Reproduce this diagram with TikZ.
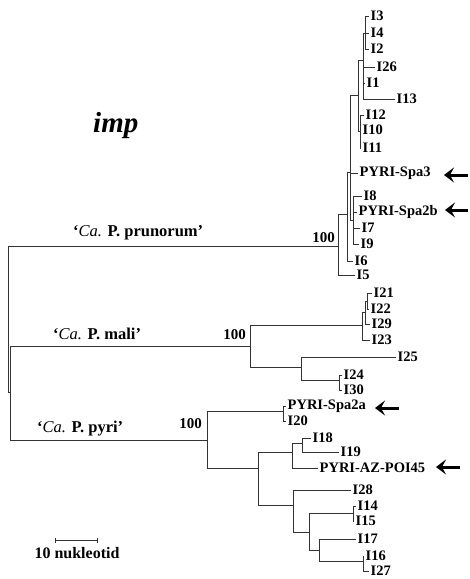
\documentclass[tikz,border=0pt]{standalone}
\usepackage{fontspec}
\setmainfont{Liberation Serif}
\usetikzlibrary{arrows.meta}

\tikzset{
  br/.style={draw=black!80, line width=0.7pt},
  leaf/.style={anchor=west, inner sep=1.5pt, font=\bfseries\fontsize{14.5}{15}\selectfont},
  boot/.style={anchor=base east, inner sep=0pt, font=\bfseries\fontsize{15}{16}\selectfont},
  clade/.style={anchor=base west, inner sep=0pt, font=\bfseries\fontsize{16.5}{18}\selectfont},
  pointer/.style={line width=3pt, -{Stealth[length=10pt,width=15pt,inset=4pt]}},
}

\begin{document}
\begin{tikzpicture}[x=1pt,y=-1pt]
\useasboundingbox (0,0) rectangle (470,579);

% Root and the three groups
\coordinate (root) at (8,319);
\coordinate (r2) at (10,392);
\coordinate (prun) at (338,246);
\coordinate (mali) at (250,346);
\coordinate (pyri) at (207,440);

% 'Ca. P. prunorum' cluster
\coordinate (a) at (347,214);
\coordinate (b) at (350,172);
\coordinate (c2) at (358,95);
\coordinate (c3) at (363,60);
\coordinate (c1) at (365,33);
\coordinate (c4) at (360,131);
\coordinate (c6) at (353,220);

\node[leaf] (i3) at (369,16) {I3};
\node[leaf] (i4) at (369,33) {I4};
\node[leaf] (i2) at (369,49) {I2};
\node[leaf] (i26) at (375,67) {I26};
\node[leaf] (i1) at (365,83) {I1};
\node[leaf] (i13) at (395,99) {I13};
\node[leaf] (i12) at (364,115) {I12};
\node[leaf] (i10) at (361,130) {I10};
\node[leaf] (i11) at (361,148) {I11};
\node[leaf] (spa3) at (358,173) {PYRI-Spa3};
\node[leaf] (i8) at (362,196) {I8};
\node[leaf] (spa2b) at (357,212) {PYRI-Spa2b};
\node[leaf] (i7) at (360,228) {I7};
\node[leaf] (i9) at (359,244) {I9};
\node[leaf] (i6) at (353,261) {I6};
\node[leaf] (i5) at (355,275) {I5};

% 'Ca. P. mali' cluster
\coordinate (d1) at (367,301);
\coordinate (d2) at (365,312);
\coordinate (d3) at (362,325);
\coordinate (d4) at (301,367);
\coordinate (d5) at (339,380);

\node[leaf] (i21) at (372,293) {I21};
\node[leaf] (i22) at (369,309) {I22};
\node[leaf] (i29) at (370,324) {I29};
\node[leaf] (i23) at (370,340) {I23};
\node[leaf] (i25) at (396,357) {I25};
\node[leaf] (i24) at (342,375) {I24};
\node[leaf] (i30) at (342,390) {I30};

% 'Ca. P. pyri' cluster
\coordinate (s) at (283,411);
\coordinate (f) at (258,468);
\coordinate (g) at (292,452);
\coordinate (g1) at (302,443);
\coordinate (h) at (293,505);
\coordinate (h2) at (309,532);
\coordinate (h3) at (353,513);
\coordinate (h4) at (319,550);
\coordinate (h5) at (363,561);

\node[leaf] (spa2a) at (286,406) {PYRI-Spa2a};
\node[leaf] (i20) at (286,421) {I20};
\node[leaf] (i18) at (311,438) {I18};
\node[leaf] (i19) at (339,452) {I19};
\node[leaf] (az) at (318,468) {PYRI-AZ-POI45};
\node[leaf] (i28) at (351,490) {I28};
\node[leaf] (i14) at (356,506) {I14};
\node[leaf] (i15) at (354,521) {I15};
\node[leaf] (i17) at (356,539) {I17};
\node[leaf] (i16) at (364,556) {I16};
\node[leaf] (i27) at (369,571) {I27};

% Branches
\draw[br] (root) |- (prun) (root) |- (r2);
\draw[br] (r2) |- (mali) (r2) |- (pyri);

\draw[br] (prun) |- (a) (prun) |- (i5.west);
\draw[br] (a) |- (b) (a) |- (i6.west);
\draw[br] (b) |- (c2) (b) |- (spa3.west) (b) |- (c6);
\draw[br] (c2) |- (c3) (c2) |- (c4);
\draw[br] (c3) |- (c1) (c3) |- (i26.west) (c3) |- (i1.west) (c3) |- (i13.west);
\draw[br] (c1) |- (i3.west) (c1) |- (i4.west) (c1) |- (i2.west);
\draw[br] (c4) |- (i12.west) (c4) |- (i10.west) (c4) |- (i11.west);
\draw[br] (c6) |- (i8.west) (c6) |- (spa2b.west) (c6) |- (i7.west) (c6) |- (i9.west);

\draw[br] (mali) |- (d3) (mali) |- (d4);
\draw[br] (d3) |- (d2) (d3) |- (i23.west);
\draw[br] (d2) |- (d1) (d2) |- (i29.west);
\draw[br] (d1) |- (i21.west) (d1) |- (i22.west);
\draw[br] (d4) |- (i25.west) (d4) |- (d5);
\draw[br] (d5) |- (i24.west) (d5) |- (i30.west);

\draw[br] (pyri) |- (s) (pyri) |- (f);
\draw[br] (s) |- (spa2a.west) (s) |- (i20.west);
\draw[br] (f) |- (g) (f) |- (h);
\draw[br] (g) |- (g1) (g) |- (az.west);
\draw[br] (g1) |- (i18.west) (g1) |- (i19.west);
\draw[br] (h) |- (i28.west) (h) |- (h2);
\draw[br] (h2) |- (h3) (h2) |- (h4);
\draw[br] (h3) |- (i14.west) (h3) |- (i15.west);
\draw[br] (h4) |- (i17.west) (h4) |- (h5);
\draw[br] (h5) |- (i16.west) (h5) |- (i27.west);

% Group labels and bootstrap values
\node[clade] (lprun) at (73,236) {`{\mdseries\itshape Ca.} P. prunorum'};
\node[clade] (lmali) at (53,339) {`{\mdseries\itshape Ca.} P. mali'};
\node[clade] (lpyri) at (37,432) {`{\mdseries\itshape Ca.} P. pyri'};
\node[boot] (bprun) at (335,242) {100};
\node[boot] (bmali) at (246,339) {100};
\node[boot] (bpyri) at (202,428) {100};

% Title
\node[font=\bfseries\itshape\fontsize{29}{30}\selectfont, anchor=base west, inner sep=0pt] (title) at (93,132) {imp};

% Marked isolates
\coordinate (a1s) at (468,175); \coordinate (a1e) at (444,175);
\coordinate (a2s) at (468,210); \coordinate (a2e) at (445,210);
\coordinate (a3s) at (399,408); \coordinate (a3e) at (375,408);
\coordinate (a4s) at (460,467); \coordinate (a4e) at (436,467);
\draw[pointer] (a1s) -- (a1e);
\draw[pointer] (a2s) -- (a2e);
\draw[pointer] (a3s) -- (a3e);
\draw[pointer] (a4s) -- (a4e);

% Scale bar
\coordinate (sb1) at (55,540);
\coordinate (sb2) at (98,540);
\draw[br, {Bar[width=5pt]}-{Bar[width=5pt]}] (sb1) -- (sb2);
\node[font=\bfseries\fontsize{16}{18}\selectfont, anchor=base, inner sep=0pt] (sblabel) at (77,558) {10 nukleotid};

\end{tikzpicture}
\end{document}
